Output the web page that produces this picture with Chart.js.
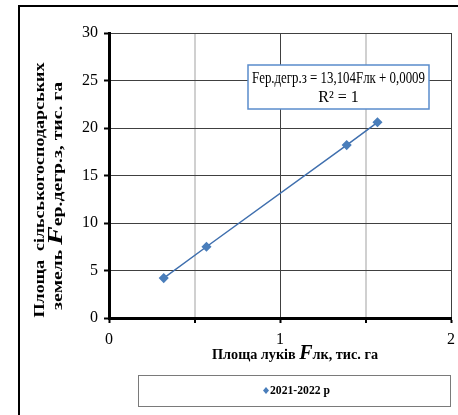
<!DOCTYPE html>
<html lang="uk">

<head>
  <meta charset="UTF-8">
  <title>Площа луків</title>
  <script src="https://cdn.jsdelivr.net/npm/chart.js"></script>
  <style>
    body { margin: 0; background: #fff; }
  </style>
</head>

<body>
  <canvas id="myChart" width="458" height="415"></canvas>
</body>

</html>
<script>
  // дані
  const seriesName = '2021-2022 р';
  const plLukiv = [0.32, 0.57, 1.39, 1.57];     // Fлк, тис. га
  const plDegr = [4.2, 7.5, 18.2, 20.6];        // Fер.дегр.з, тис. га
  const equationLines = ['Fер.дегр.з = 13,104Fлк + 0,0009', 'R² = 1'];

  const serif = '"Liberation Serif", "Times New Roman", serif';
  const blue = '#3f6fae';

  var points = [];
  for (var i = 0; i < plLukiv.length; i++) {
    points.push({ x: plLukiv[i], y: plDegr[i] });
  }

  // малює рядок з кількох шматків різного шрифту по центру (0,0),
  // розтягуючи/стискаючи його до потрібної довжини
  function drawParts(ctx, parts, width) {
    var total = 0;
    for (var p of parts) { ctx.font = p.f; total += ctx.measureText(p.t).width; }
    ctx.save();
    if (width) ctx.scale(width / total, 1);
    var x = -total / 2;
    ctx.textAlign = 'left';
    ctx.textBaseline = 'middle';
    for (var p of parts) {
      ctx.font = p.f;
      ctx.fillText(p.t, x, p.dy || 0);
      x += ctx.measureText(p.t).width;
    }
    ctx.restore();
  }

  function textAt(ctx, parts, x, y, width, rotate) {
    ctx.save();
    ctx.translate(x, y);
    if (rotate) ctx.rotate(-Math.PI / 2);
    drawParts(ctx, parts, width);
    ctx.restore();
  }

  const decor = {
    id: 'decor',
    afterDraw(chart) {
      const ctx = chart.ctx;
      const bold = 'bold 14px ' + serif;
      const bigF = 'italic bold 20px ' + serif;
      ctx.save();
      ctx.fillStyle = '#000';

      // рамка зліва і зверху
      ctx.strokeStyle = '#000';
      ctx.lineWidth = 2;
      ctx.beginPath();
      ctx.moveTo(19, 415); ctx.lineTo(19, 6); ctx.lineTo(458, 6);
      ctx.stroke();

      // підпис осі Y (два рядки, повернуті)
      textAt(ctx, [{ t: 'Площа  сільськогосподарських', f: bold }], 40, 190, 255, true);
      textAt(ctx, [
        { t: 'земель ', f: bold },
        { t: 'F', f: bigF, dy: -1 },
        { t: 'ер.дегр.з, тис. га', f: bold }
      ], 58, 196, 228, true);

      // підпис осі X
      textAt(ctx, [
        { t: 'Площа луків ', f: 'bold 15px ' + serif },
        { t: 'F', f: 'italic bold 21px ' + serif, dy: -1 },
        { t: 'лк, тис. га', f: 'bold 15px ' + serif }
      ], 295, 355, 166, false);

      // рівняння тренду
      ctx.fillStyle = '#fff';
      ctx.fillRect(248, 65, 181, 44);
      ctx.strokeStyle = '#5a8ccc';
      ctx.lineWidth = 1.5;
      ctx.strokeRect(248, 65, 181, 44);
      ctx.fillStyle = '#000';
      textAt(ctx, [{ t: equationLines[0], f: '16px ' + serif }], 338.5, 79, 173, false);
      textAt(ctx, [{ t: equationLines[1], f: '16px ' + serif }], 338.5, 98, 0, false);

      // легенда
      ctx.strokeStyle = '#7a7a7a';
      ctx.lineWidth = 1;
      ctx.strokeRect(138.5, 375.5, 312, 31);
      ctx.fillStyle = '#4a7ebb';
      ctx.beginPath();
      ctx.moveTo(266, 387); ctx.lineTo(269, 390.5); ctx.lineTo(266, 394); ctx.lineTo(263, 390.5);
      ctx.closePath();
      ctx.fill();
      ctx.fillStyle = '#000';
      textAt(ctx, [{ t: seriesName, f: 'bold 13px ' + serif }], 300, 391, 60, false);

      ctx.restore();
    }
  };

  const ctx = document.getElementById('myChart');

  new Chart(ctx, {
    type: 'scatter',
    data: {
      datasets: [{
        label: seriesName,
        data: points,
        showLine: true,
        borderColor: blue,
        borderWidth: 1.5,
        pointStyle: 'rectRot',
        pointRadius: 4,
        pointBackgroundColor: '#4a7ebb',
        pointBorderColor: '#4a7ebb'
      }]
    },
    options: {
      responsive: false,
      animation: false,
      layout: { padding: { top: 33, right: 7, left: 0, bottom: 0 } },
      plugins: {
        legend: { display: false },
        tooltip: { enabled: false }
      },
      scales: {
        x: {
          type: 'linear',
          min: 0,
          max: 2,
          afterFit: function (scale) {
            scale.height = 97;
            scale.paddingLeft = 0;
            scale.paddingRight = 0;
          },
          ticks: {
            stepSize: 0.5,
            maxRotation: 0,
            padding: 7,
            color: '#000',
            font: { family: serif, size: 16 },
            callback: function (v) { return Number.isInteger(v) ? v : ''; }
          },
          grid: {
            color: function (c) { return c.tick && c.tick.value % 1 === 0 ? '#404040' : '#d0d0d0'; },
            lineWidth: function (c) { return c.tick && c.tick.value % 1 === 0 ? 1 : 2; },
            tickColor: '#000',
            tickWidth: 2,
            tickLength: 5
          },
          border: { color: '#000', width: 3 }
        },
        y: {
          min: 0,
          max: 30,
          afterFit: function (scale) { scale.width = 109; },
          ticks: {
            stepSize: 5,
            padding: 6,
            color: '#000',
            font: { family: serif, size: 16 }
          },
          grid: {
            color: '#404040',
            lineWidth: 1,
            tickColor: '#000',
            tickWidth: 2,
            tickLength: 5
          },
          border: { color: '#000', width: 3 }
        }
      }
    },
    plugins: [decor]
  });
</script>
